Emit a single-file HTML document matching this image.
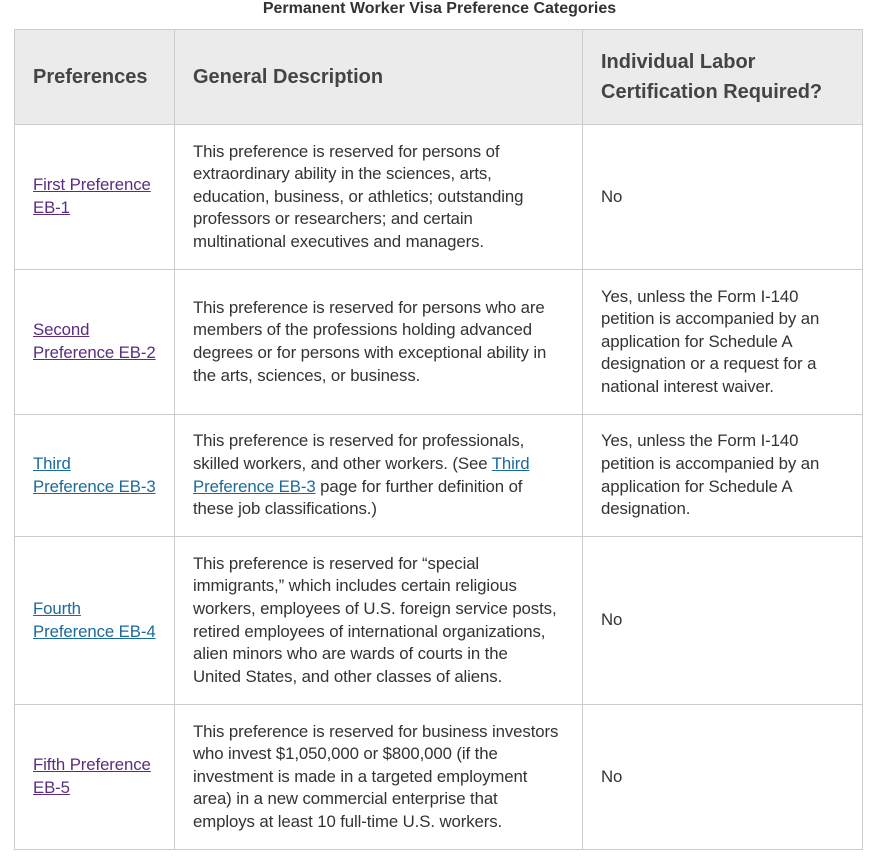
<!DOCTYPE html>
<html><head><meta charset="utf-8"><style>
body{margin:0;background:#fff;width:879px;height:861px;overflow:hidden;font-family:"Liberation Sans",sans-serif;color:#333}
.title{position:absolute;top:0;left:0;width:879px;text-align:center;font-weight:bold;font-size:16px;line-height:18px;color:#333}
table{position:absolute;left:14px;top:29px;border-collapse:collapse;table-layout:fixed}
td,th{border:1px solid #ccc;vertical-align:middle;text-align:left;padding:0 18px;white-space:nowrap;font-size:16.8px;line-height:22.6px;letter-spacing:-0.1px}
th{background:#ebebeb;font-size:20px;line-height:30px;color:#444;font-weight:bold;letter-spacing:0}
a{text-decoration:underline}
.p{color:#5a2d81}.b{color:#1b6a9c}
</style></head><body>
<div class="title">Permanent Worker Visa Preference Categories</div>
<table>
<colgroup><col style="width:160px"><col style="width:408px"><col style="width:280px"></colgroup>
<tr style="height:95px"><th>Preferences</th><th>General Description</th><th>Individual Labor<br>Certification Required?</th></tr>
<tr style="height:145px"><td><a class="p">First Preference<br>EB-1</a></td><td>This preference is reserved for persons of<br>extraordinary ability in the sciences, arts,<br>education, business, or athletics; outstanding<br>professors or researchers; and certain<br>multinational executives and managers.</td><td>No</td></tr>
<tr style="height:145px"><td><a class="p">Second<br>Preference EB-2</a></td><td>This preference is reserved for persons who are<br>members of the professions holding advanced<br>degrees or for persons with exceptional ability in<br>the arts, sciences, or business.</td><td>Yes, unless the Form I-140<br>petition is accompanied by an<br>application for Schedule A<br>designation or a request for a<br>national interest waiver.</td></tr>
<tr style="height:122px"><td><a class="b">Third<br>Preference EB-3</a></td><td>This preference is reserved for professionals,<br>skilled workers, and other workers. (See <a class="b">Third</a><br><a class="b">Preference EB-3</a> page for further definition of<br>these job classifications.)</td><td>Yes, unless the Form I-140<br>petition is accompanied by an<br>application for Schedule A<br>designation.</td></tr>
<tr style="height:168px"><td><a class="b">Fourth<br>Preference EB-4</a></td><td>This preference is reserved for “special<br>immigrants,” which includes certain religious<br>workers, employees of U.S. foreign service posts,<br>retired employees of international organizations,<br>alien minors who are wards of courts in the<br>United States, and other classes of aliens.</td><td>No</td></tr>
<tr style="height:145px"><td><a class="p">Fifth Preference<br>EB-5</a></td><td>This preference is reserved for business investors<br>who invest $1,050,000 or $800,000 (if the<br>investment is made in a targeted employment<br>area) in a new commercial enterprise that<br>employs at least 10 full-time U.S. workers.</td><td>No</td></tr>
</table>
</body></html>
